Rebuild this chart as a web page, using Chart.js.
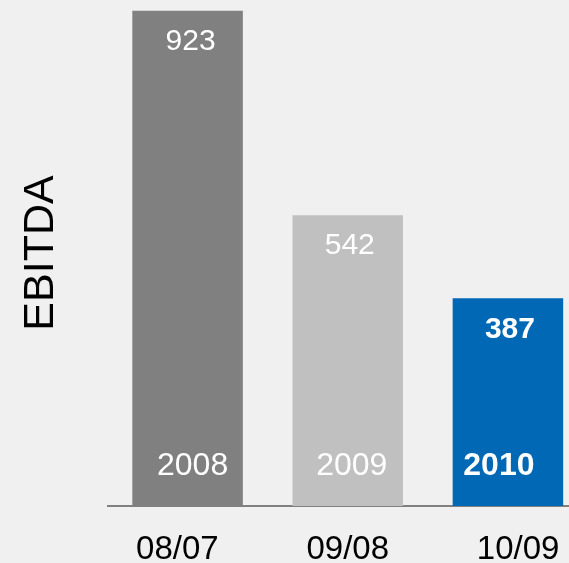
<!DOCTYPE html>
<html>
<head>
<meta charset="utf-8">
<script src="https://cdn.jsdelivr.net/npm/chart.js@4/dist/chart.umd.min.js"></script>
<style>
  html, body { margin: 0; padding: 0; background: #f0f0f0; overflow: hidden; }
  #wrap { width: 588px; height: 563px; position: relative; }
</style>
</head>
<body>
<div id="wrap"><canvas id="c" width="588" height="563"></canvas></div>
<script>
// EBITDA by year, with the year-over-year period shown under the axis
const periods = ['08/07', '09/08', '10/09'];
const years = ['2008', '2009', '2010'];
const ebitda = [923, 542, 387];
const barColors = ['#808080', '#c0c0c0', '#0068b4'];
const boldLabel = [false, false, true];

// small horizontal nudges for the in-bar texts (px)
const valueNudge = [3, 2, 2];
const yearNudge = [5, 4, -9];

const FONT = '"Liberation Sans", Arial, sans-serif';

// Writes the value near the top of each bar and the year near its base
const barText = {
  id: 'barText',
  afterDatasetsDraw(chart) {
    const ctx = chart.ctx;
    const meta = chart.getDatasetMeta(0);
    const base = chart.scales.y.getPixelForValue(0);
    ctx.save();
    ctx.fillStyle = '#ffffff';
    ctx.textAlign = 'center';
    ctx.textBaseline = 'middle';
    meta.data.forEach((bar, i) => {
      const weight = boldLabel[i] ? 'bold ' : '';
      ctx.font = weight + '30px ' + FONT;
      ctx.fillText(String(ebitda[i]), bar.x + valueNudge[i], bar.y + 31);
      ctx.font = weight + '32px ' + FONT;
      ctx.fillText(years[i], bar.x + yearNudge[i], base - 40);
    });
    ctx.restore();
  }
};

new Chart(document.getElementById('c'), {
  type: 'bar',
  data: {
    labels: periods,
    datasets: [{
      data: ebitda,
      backgroundColor: barColors,
      borderWidth: 0,
      categoryPercentage: 1,
      barPercentage: 0.69
    }]
  },
  options: {
    responsive: false,
    animation: false,
    layout: { padding: 0 },
    plugins: { legend: { display: false }, tooltip: { enabled: false } },
    scales: {
      x: {
        grid: { display: false },
        border: { color: '#808080', width: 2 },
        ticks: { display: false },
        afterFit(scale) { scale.height = 0; }
      },
      // period labels sit on a slightly wider spacing than the bars
      periodAxis: {
        type: 'linear',
        position: 'bottom',
        offset: false,
        bounds: 'data',
        min: -0.41,
        max: 2.41,
        grid: { display: false, offset: false },
        border: { display: false },
        afterBuildTicks(scale) { scale.ticks = periods.map((_, i) => ({ value: i })); },
        afterFit(scale) {
          scale.height = 57;
          scale.paddingLeft = 0;
          scale.paddingRight = 0;
        },
        ticks: {
          autoSkip: false,
          maxRotation: 0,
          includeBounds: false,
          color: '#000000',
          font: { family: FONT, size: 33 },
          padding: 16,
          callback: (v) => periods[v]
        }
      },
      y: {
        min: 0,
        max: 943,
        grid: { display: false },
        border: { display: false },
        ticks: { display: false },
        title: {
          display: true,
          text: 'EBITDA',
          color: '#000000',
          font: { family: FONT, size: 43 },
          padding: { top: 15, bottom: 0 }
        },
        afterFit(scale) { scale.width = 107.5; }
      }
    }
  },
  plugins: [barText]
});
</script>
</body>
</html>
